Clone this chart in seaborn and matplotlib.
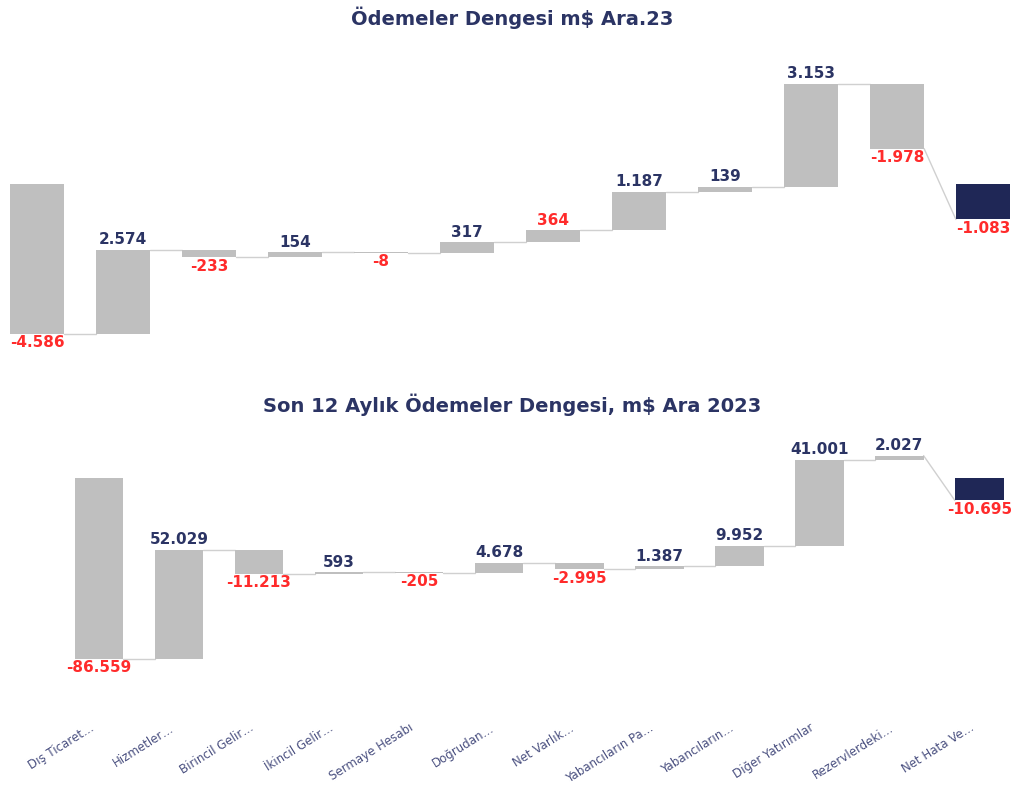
import numpy as np
import pandas as pd
import matplotlib.pyplot as plt
import matplotlib.transforms as mtransforms
import seaborn as sns

sns.set_theme(style="white")
plt.rcParams['font.family'] = ['DejaVu Sans']

# Category names (same for both charts)
categories = ["Dış Ticaret…", "Hizmetler…", "Birincil Gelir…", "İkincil Gelir…",
              "Sermaye Hesabı", "Doğrudan…", "Net Varlık…", "Yabancıların Pa…",
              "Yabancıların…", "Diğer Yatırımlar", "Rezervlerdeki…", "Net Hata Ve…"]

# Monthly (Dec 2023), m$
monthly_values = [-4586, 2574, -233, 154, -8, 317, 364, 1187, 139, 3153, -1978, -1083]
# Last 12 months, m$
annual_values = [-86559, 52029, -11213, 593, -205, 4678, -2995, 1387, 9952, 41001, 2027, -10695]

top_title = "Ödemeler Dengesi m$ Ara.23"
bottom_title = "Son 12 Aylık Ödemeler Dengesi, m$ Ara 2023"

GREY = "#BFBFBF"
NAVY = "#1F2756"
LABEL_NAVY = "#2B3464"
RED = "#FF2B2B"
LINE = "#D0D0D0"


def fmt(v):
    return f"{v:,}".replace(",", ".")


def waterfall(ax, values, bar_width, red_idx=()):
    """Floating bars: each item starts where the previous one ended,
    last item is drawn from zero in navy."""
    vals = np.array(values)
    cum = np.cumsum(vals)
    start = np.concatenate([[0], cum[:-1]])
    start[-1] = 0  # last bar drawn from the zero line
    df = pd.DataFrame({"cat": categories, "height": vals, "start": start})

    sns.barplot(data=df, x="cat", y="height", bottom=df["start"].to_numpy(),
                color=GREY, width=bar_width, saturation=1, ax=ax,
                linewidth=0, edgecolor="none")
    ax.patches[-1].set_facecolor(NAVY)

    # connectors
    hw = bar_width / 2
    ends = start + vals
    for i in range(len(vals) - 2):
        ax.plot([i + hw, i + 1 - hw], [ends[i], ends[i]], color=LINE, lw=1, zorder=0)
    n = len(vals) - 1
    ax.plot([n - 1 + hw, n - hw], [ends[n - 1], ends[n]], color=LINE, lw=1, zorder=0)

    # value labels
    for i, v in enumerate(vals):
        lo, hi = min(start[i], ends[i]), max(start[i], ends[i])
        color = RED if (v < 0 or i in red_idx) else LABEL_NAVY
        if v >= 0:
            ax.annotate(fmt(v), (i, hi), xytext=(0, 2), textcoords="offset points",
                        ha="center", va="bottom", fontsize=11, fontweight="bold",
                        color=color)
        else:
            ax.annotate(fmt(v), (i, lo), xytext=(0, -1), textcoords="offset points",
                        ha="center", va="top", fontsize=11, fontweight="bold",
                        color=color)

    sns.despine(ax=ax, left=True, bottom=True)
    ax.set_yticks([])
    ax.set_xlabel("")
    ax.set_ylabel("")


fig = plt.figure(figsize=(10.12, 7.87), dpi=100)
H = 787.0

# top chart
ax1 = fig.add_axes([0.0, (H - 360) / H, 1.0, 320 / H])
waterfall(ax1, monthly_values, 0.63, red_idx=(6,))
ax1.set_xlim(-0.43, 11.337)
ax1.set_ylim(-5382, 4404)
ax1.set_xticks([])

# bottom chart
ax2 = fig.add_axes([59 / 1012, (H - 715) / H, 953 / 1012, 290 / H])
waterfall(ax2, annual_values, 0.61)
ax2.set_xlim(-0.5, 11.41)
ax2.set_ylim(-113397, 25359)
ax2.tick_params(axis="x", length=0, pad=6)
shift = mtransforms.ScaledTranslation(-10 / 100, 2 / 100, fig.dpi_scale_trans)
for lab in ax2.get_xticklabels():
    lab.set_rotation(32)
    lab.set_ha("right")
    lab.set_va("top")
    lab.set_rotation_mode("anchor")
    lab.set_fontsize(8.5)
    lab.set_color("#4A5080")
    lab.set_transform(lab.get_transform() + shift)

fig.text(0.506, 1 - 18 / H, top_title, ha="center", va="center",
         fontsize=14, fontweight="bold", color=LABEL_NAVY)
fig.text(0.506, 1 - 405 / H, bottom_title, ha="center", va="center",
         fontsize=14, fontweight="bold", color=LABEL_NAVY)

fig.savefig("out.png", dpi=100)
